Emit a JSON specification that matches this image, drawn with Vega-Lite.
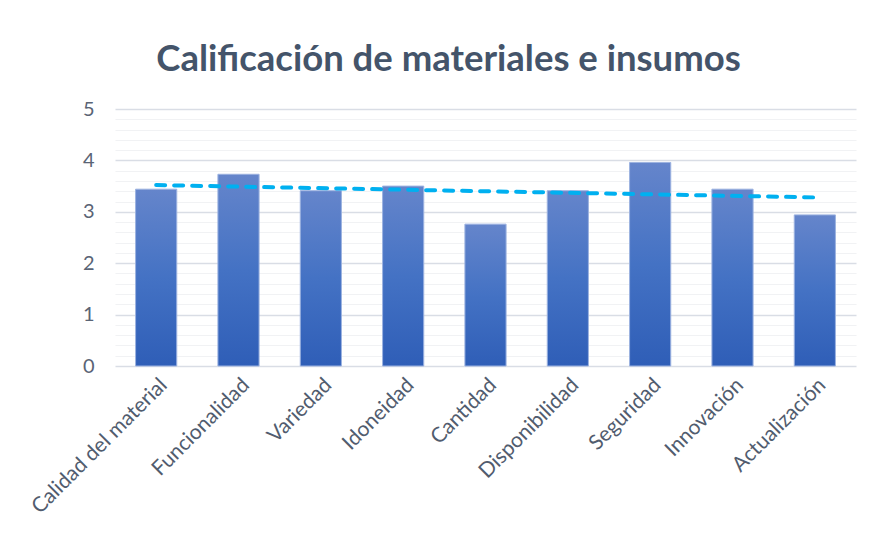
{
  "$schema": "https://vega.github.io/schema/vega-lite/v6.json",
  "width": 741,
  "height": 257,
  "autosize": {"type": "none"},
  "padding": {"left": 115, "top": 109, "right": 17, "bottom": 167},
  "background": "white",
  "title": {
    "text": "Calificación de materiales e insumos",
    "font": "Lato",
    "fontSize": 36.5,
    "fontWeight": "bold",
    "color": "#44546a",
    "anchor": "middle",
    "frame": "group",
    "dx": -37,
    "offset": 21
  },
  "datasets": {
    "valores": [
      {"categoria": "Calidad del material", "calificacion": 3.44},
      {"categoria": "Funcionalidad", "calificacion": 3.73},
      {"categoria": "Variedad", "calificacion": 3.41},
      {"categoria": "Idoneidad", "calificacion": 3.50},
      {"categoria": "Cantidad", "calificacion": 2.76},
      {"categoria": "Disponibilidad", "calificacion": 3.41},
      {"categoria": "Seguridad", "calificacion": 3.96},
      {"categoria": "Innovación", "calificacion": 3.44},
      {"categoria": "Actualización", "calificacion": 2.94}
    ],
    "tendencia": [
      {"categoria": "Calidad del material", "calificacion": 3.52},
      {"categoria": "Actualización", "calificacion": 3.28}
    ]
  },
  "encoding": {
    "x": {
      "field": "categoria",
      "type": "nominal",
      "sort": null,
      "scale": {
        "domain": ["Calidad del material", "Funcionalidad", "Variedad", "Idoneidad", "Cantidad", "Disponibilidad", "Seguridad", "Innovación", "Actualización"],
        "paddingInner": 0.5,
        "paddingOuter": 0.25
      },
      "axis": {
        "title": null,
        "labelAngle": -45,
        "labelFont": "Lato",
        "labelFontSize": 21,
        "labelColor": "#515c6e",
        "labelPadding": 8,
        "labelLimit": 400,
        "ticks": false,
        "domain": false,
        "grid": false
      }
    },
    "y": {
      "field": "calificacion",
      "type": "quantitative",
      "scale": {"domain": [0, 5], "nice": false},
      "axis": {
        "title": null,
        "values": [0, 0.2, 0.4, 0.6, 0.8, 1, 1.2, 1.4, 1.6, 1.8, 2, 2.2, 2.4, 2.6, 2.8, 3, 3.2, 3.4, 3.6, 3.8, 4, 4.2, 4.4, 4.6, 4.8, 5],
        "labelExpr": "datum.value % 1 === 0 ? format(datum.value, 'd') : ''",
        "labelFont": "Lato",
        "labelFontSize": 20,
        "labelColor": "#5a6475",
        "labelPadding": 21,
        "ticks": false,
        "domain": false,
        "grid": true,
        "gridColor": {"condition": {"test": "datum.value % 1 === 0", "value": "#d9dde5"}, "value": "#f1f2f4"},
        "gridWidth": {"condition": {"test": "datum.value % 1 === 0", "value": 1.5}, "value": 1.2}
      }
    }
  },
  "layer": [
    {
      "data": {"name": "valores"},
      "mark": {
        "type": "bar",
        "color": {
          "gradient": "linear",
          "x1": 0, "y1": 0, "x2": 0, "y2": 1,
          "stops": [
            {"offset": 0, "color": "#6585cb"},
            {"offset": 0.5, "color": "#4472c4"},
            {"offset": 1, "color": "#2f5eb7"}
          ]
        },
        "stroke": "#9cb2e0",
        "strokeWidth": 1
      }
    },
    {
      "data": {"name": "tendencia"},
      "mark": {
        "type": "line",
        "color": "#00b0f0",
        "strokeWidth": 4,
        "strokeDash": [9, 9],
        "strokeCap": "round"
      }
    }
  ],
  "config": {"view": {"stroke": null}}
}
